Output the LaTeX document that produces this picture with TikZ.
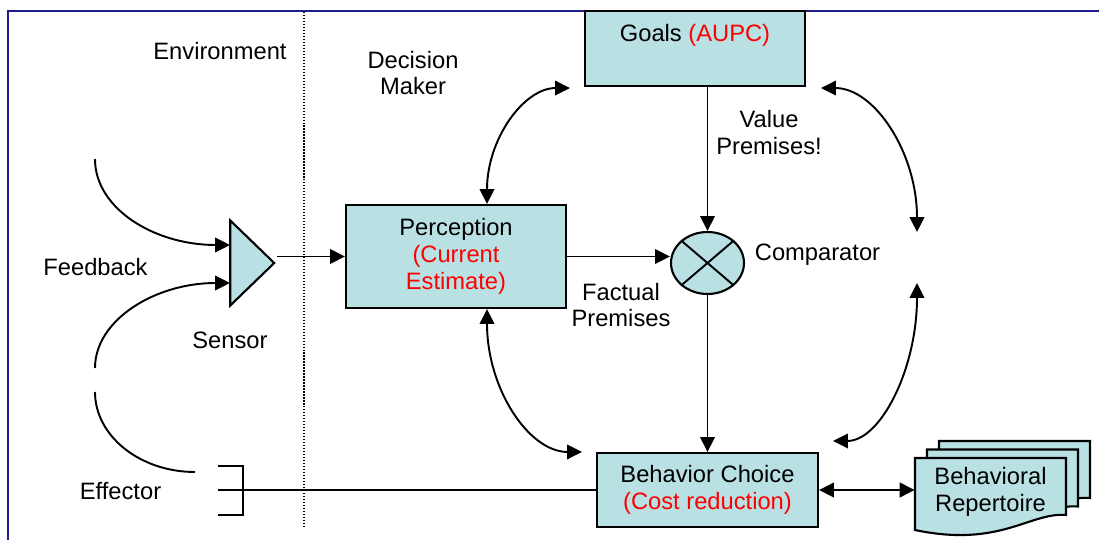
\documentclass[tikz,border=0pt]{standalone}
\usepackage{fontspec}
\setmainfont{Liberation Sans}
\usetikzlibrary{arrows.meta,calc,positioning,shapes.geometric}

\definecolor{boxfill}{RGB}{185,224,227}
\definecolor{framecol}{RGB}{28,28,140}

\tikzset{
	txt/.style={inner sep=0pt, align=center, font=\fontsize{13.5}{15.3}\selectfont},
	box/.style={draw, fill=boxfill, line width=1.2pt},
	con/.style={line width=1.1pt, -{Triangle[length=8.5pt,width=8.3pt]}},
	dbl/.style={line width=1.1pt, {Triangle[length=8.5pt,width=8.3pt]}-{Triangle[length=8.5pt,width=8.3pt]}},
}

\begin{document}
\begin{tikzpicture}[x=0.02cm, y=-0.02cm]
		\useasboundingbox (0,0) rectangle (1099,540);
		% frame and the environment / decision maker border
		\draw[framecol, line width=1.3pt] (8,540) -- (8,11) -- (1099,11);
		\draw[line width=0.7pt, dash pattern=on 0.7pt off 1pt] (304,12) -- (304,526);
		
		\node[txt] (env) at (220,51) {Environment};
		\node[txt] (dm) at (413,73) {Decision\\Maker};
		
		% boxes
		\node[box, minimum width=4.4cm, minimum height=1.5cm] (goals) at (695,48.5) {};
		\node[txt] (goalstxt) at (695,35) {Goals \textcolor{red}{(AUPC)}};
		\node[box, txt, minimum width=4.4cm, minimum height=2.06cm] (perc) at (456,256.5) {Perception\\\textcolor{red}{(Current}\\\textcolor{red}{Estimate)}};
		\node[box, ellipse, minimum width=1.46cm, minimum height=1.24cm, inner sep=0pt] (comp) at (707.5,263) {};
		\draw[line width=1.1pt] (comp.north west) -- (comp.south east) (comp.north east) -- (comp.south west);
		\node[box, txt, minimum width=4.42cm, minimum height=1.48cm] (behav) at (707.5,490) {Behavior Choice\\\textcolor{red}{(Cost reduction)}};
		
		% stacked pages of the repertoire
		\foreach \d in {2,1,0}
			\draw[box, shift={(12*\d,-8.5*\d)}] (915,458) -- (1066,458) -- (1066,515) .. controls (1030,512) and (1000,548) .. (915,530) -- cycle;
		\node[txt, minimum width=3.02cm] (rep) at (990.5,492) {Behavioral\\Repertoire};
		
		% sensor
		\node[box, isosceles triangle, isosceles triangle stretches, minimum width=1.7cm, minimum height=0.88cm, inner sep=0pt, anchor=apex] (sensor) at (277,263) {};
		
		\node[txt] (senslbl) at (230,340) {Sensor};
		\node[txt] (fb) at (95.5,267.5) {Feedback};
		\node[txt] (efflbl) at (120.5,491.5) {Effector};
		\node[txt] (vp) at (769,132.5) {Value\\Premises!};
		\node[txt] (fp) at (621,305) {Factual\\Premises};
		\node[txt] (cmplbl) at (817.5,254.5) {Comparator};
		
		% effector
		\draw[line width=1.1pt] (218,466) -- (243,466) -- (243,515) -- (218,515);
		\coordinate (eff) at (218,490);
		\draw[line width=1.1pt] (eff) -- (behav.west);
		
		% feedback loop
		\coordinate (fbtop) at (95,159);
		\coordinate (fbbot) at (95,368);
		\coordinate (effup) at (95,392);
		\coordinate (effout) at (195,472);
		\coordinate (sin1) at (230,245);
		\coordinate (sin2) at (230,283);
		\draw[con] (fbtop) .. controls +(0,50) and +(-75,0) .. (sin1);
		\draw[con] (fbbot) .. controls +(0,-48) and +(-75,0) .. (sin2);
		\draw[line width=1.1pt] (effup) .. controls +(0,44) and +(-55,0) .. (effout);
		
		% main flow
		\draw[con] (sensor.apex |- perc.west) -- (perc.west);
		\draw[con] (perc.east) -- (perc.east -| comp.west);
		\draw[con] (comp.north |- goals.south) -- (comp.north);
		\draw[con] (comp.south) -- (behav.north);
		\draw[dbl] (behav.east) -- (behav.east -| rep.west);
		
		% two-way links
		\coordinate (rtop) at (917,232);
		\coordinate (rbot) at (917,283);
		\draw[dbl] ($(perc.north)+(31,0)$) .. controls +(0,-65) and +(-46,0) .. ($(goals.south west)+(-14,1)$);
		\draw[dbl] ($(goals.south east)+(15,1)$) .. controls +(53,0) and +(0,-80) .. (rtop);
		\draw[dbl] (rbot) .. controls +(0,87) and +(47,0) .. ($(behav.north east)+(14,-11)$);
		\draw[dbl] ($(perc.south)+(31,0)$) .. controls +(0,80) and +(-53,0) .. ($(behav.north west)+(-14,0)$);
	\end{tikzpicture}
\end{document}
